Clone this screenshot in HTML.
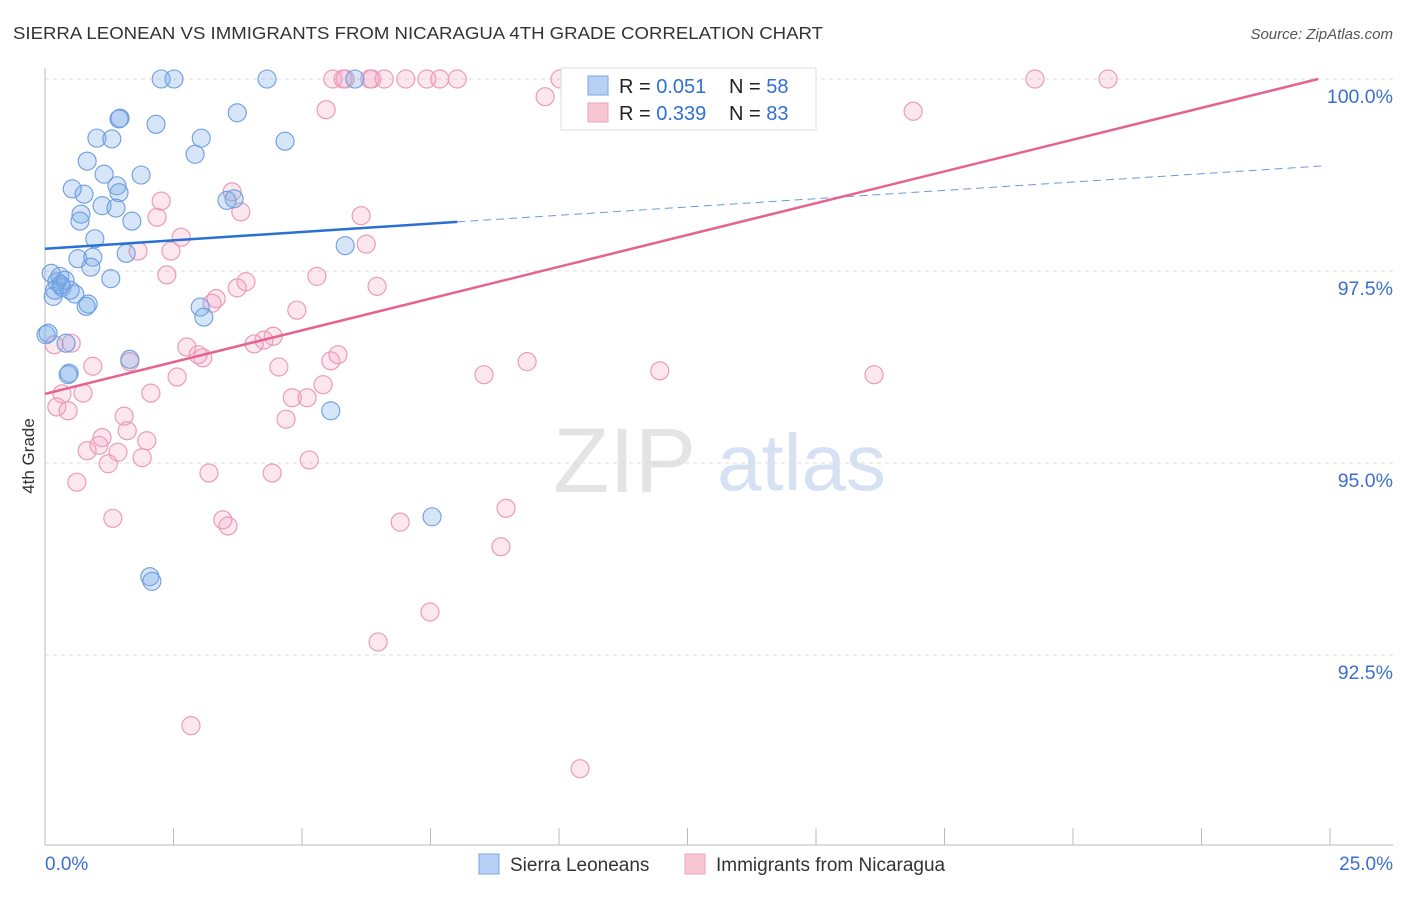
<!DOCTYPE html>
<html><head><meta charset="utf-8"><style>
body{margin:0;background:#fff;font-family:"Liberation Sans",sans-serif}
svg text{font-family:"Liberation Sans",sans-serif}
</style></head><body>
<svg id="c" width="1406" height="892">
<text x="13" y="39" font-size="17.5" fill="#333" textLength="810" lengthAdjust="spacingAndGlyphs">SIERRA LEONEAN VS IMMIGRANTS FROM NICARAGUA 4TH GRADE CORRELATION CHART</text>
<text x="1393" y="39" font-size="15" fill="#555" font-style="italic" text-anchor="end">Source: ZipAtlas.com</text>
<g>
<text x="553" y="492" font-size="92" font-family="Liberation Serif" fill="#e4e4e4">ZIP</text>
<text x="717" y="490" font-size="80" fill="#d6e2f3">atlas</text>
</g>
<g id="grid"></g><g id="axes"></g><g id="pts"></g><g id="lines"></g>
<text transform="translate(34,456) rotate(-90)" font-size="17" fill="#333" text-anchor="middle">4th Grade</text>
<g>
<rect x="561" y="68" width="255" height="62" fill="#fff" stroke="#ddd"/>
<rect x="588" y="76" width="20" height="19" fill="#b8d0f3" stroke="#7aa6e6"/>
<rect x="588" y="103" width="20" height="19" fill="#f9c6d6" stroke="#eea0ba"/>
<text x="619" y="93" font-size="20" fill="#222">R = <tspan fill="#2f6fd6">0.051</tspan></text>
<text x="729" y="93" font-size="20" fill="#222">N = <tspan fill="#2f6fd6">58</tspan></text>
<text x="619" y="120" font-size="20" fill="#222">R = <tspan fill="#2f6fd6">0.339</tspan></text>
<text x="729" y="120" font-size="20" fill="#222">N = <tspan fill="#2f6fd6">83</tspan></text>
</g>
<g>
<rect x="479" y="854" width="20" height="20" fill="#b8d0f3" stroke="#7aa6e6"/>
<text x="510" y="871" font-size="19" fill="#333">Sierra Leoneans</text>
<rect x="685" y="854" width="20" height="20" fill="#f9c6d6" stroke="#eea0ba"/>
<text x="716" y="871" font-size="19" fill="#333">Immigrants from Nicaragua</text>
</g>
</svg>
<script>
const blueX=[2.26,2.51,4.32,6.03,1.46,1.44,2.16,3.74,1.01,1.30,3.04,4.67,2.92,0.82,1.87,1.15,0.53,0.76,1.40,1.44,1.11,1.38,0.70,0.68,1.69,3.68,0.97,5.84,0.64,0.93,0.89,1.58,0.12,0.29,0.23,0.33,0.58,0.84,0.80,1.28,0.16,0.02,0.41,1.65,3.02,3.09,0.47,0.45,2.04,2.08,5.56,7.53,0.31,0.19,0.49,0.39,0.06,3.54];
const blueY=[100,100,100,100,99.49,99.48,99.41,99.56,99.23,99.22,99.23,99.19,99.02,98.93,98.75,98.76,98.57,98.50,98.61,98.52,98.35,98.32,98.24,98.15,98.15,98.44,97.92,97.83,97.66,97.68,97.55,97.73,97.47,97.43,97.36,97.29,97.20,97.07,97.04,97.40,97.17,96.67,96.56,96.35,97.03,96.90,96.17,96.15,93.52,93.46,95.68,94.30,97.32,97.25,97.25,97.38,96.69,98.42];
const pinkX=[5.60,5.84,6.36,6.60,7.02,7.43,7.68,8.02,10.02,19.26,20.68,5.80,6.32,5.47,9.73,16.89,3.64,2.26,2.18,3.81,6.15,2.65,2.45,1.81,6.25,2.37,5.29,3.91,3.74,6.46,3.25,3.33,4.90,4.07,4.26,4.44,4.55,2.76,2.98,3.07,1.65,0.93,0.51,0.18,2.57,2.06,0.33,0.74,5.41,4.81,5.10,5.56,5.70,8.54,9.38,11.96,16.13,4.69,1.54,1.60,1.98,1.11,1.05,0.82,1.42,1.89,1.23,0.23,0.45,0.62,3.19,4.42,5.14,1.32,3.46,3.56,6.91,8.97,8.87,7.49,6.48,2.84,10.41];
const pinkY=[100,100,100,100,100,100,100,100,100,100,100,100,100,99.60,99.77,99.58,98.53,98.41,98.20,98.27,98.22,97.94,97.76,97.76,97.85,97.45,97.43,97.36,97.28,97.30,97.08,97.14,96.99,96.55,96.60,96.65,96.25,96.51,96.41,96.37,96.32,96.26,96.56,96.54,96.12,95.91,95.90,95.91,96.02,95.85,95.85,96.33,96.41,96.15,96.32,96.20,96.15,95.57,95.61,95.42,95.29,95.33,95.23,95.16,95.14,95.07,94.99,95.73,95.68,94.75,94.87,94.87,95.04,94.28,94.26,94.18,94.23,94.41,93.91,93.06,92.67,91.58,91.02];
const blueTrend=[97.79,98.14,8.02,24.9,98.87];
const pinkTrend=[95.9,24.77,100];
const yTicks=[100,97.5,95,92.5];
const yTickLabels=["100.0%","97.5%","95.0%","92.5%"];
const xTicks=[0,2.5,5,7.5,10,12.5,15,17.5,20,22.5,25];
const xTickLabels=["0.0%","25.0%"];
const NS="http://www.w3.org/2000/svg";
const X=v=>45+v*51.4, Y=v=>79+(100-v)*76.8;
function mk(p,t,a){const e=document.createElementNS(NS,t);for(const k in a)e.setAttribute(k,a[k]);document.getElementById(p).appendChild(e);return e;}
yTicks.forEach((t,i)=>{
 const g=mk('grid','line',{x1:45,x2:1393,y1:Y(t),y2:Y(t),stroke:'#ddd','stroke-dasharray':'4,4'});
 
 
 const l=mk('grid','text',{x:1393,y:Y(t)+24,'text-anchor':'end','font-size':19.5,fill:'#3a6fd0'});
 l.textContent=yTickLabels[i];
 
 
});
const ax=mk('axes','line',{x1:45,x2:45,y1:68,y2:845,stroke:'#bbb'});


const bx=mk('axes','line',{x1:45,x2:1393,y1:845,y2:845,stroke:'#bbb'});


xTicks.forEach(t=>{const k=mk('axes','line',{x1:X(t),x2:X(t),y1:828,y2:845,stroke:'#bbb'});
 
 });
const xl0=mk('axes','text',{x:45,y:870,'font-size':19,fill:'#3a6fd0'});xl0.textContent=xTickLabels[0];


const xl1=mk('axes','text',{x:1393,y:870,'font-size':19,fill:'#3a6fd0','text-anchor':'end'});xl1.textContent=xTickLabels[1];


pinkX.forEach((v,i)=>{const c=mk('pts','circle',{cx:X(v),cy:Y(pinkY[i]),r:9,fill:'rgba(244,160,190,0.25)',stroke:'#eb9bb7','stroke-width':1.2});
 
 });
blueX.forEach((v,i)=>{const c=mk('pts','circle',{cx:X(v),cy:Y(blueY[i]),r:9,fill:'rgba(120,168,232,0.3)',stroke:'#6d9de0','stroke-width':1.1});
 
 });
const b1=mk('lines','line',{x1:X(0),y1:Y(blueTrend[0]),x2:X(blueTrend[2]),y2:Y(blueTrend[1]),stroke:'#2a6fd2','stroke-width':2.5});


const b2=mk('lines','line',{x1:X(blueTrend[2]),y1:Y(blueTrend[1]),x2:X(blueTrend[3]),y2:Y(blueTrend[4]),stroke:'#6a9ae0','stroke-width':1,'stroke-dasharray':'8,5'});


const p1=mk('lines','line',{x1:X(0),y1:Y(pinkTrend[0]),x2:X(pinkTrend[1]),y2:Y(pinkTrend[2]),stroke:'#e5638f','stroke-width':2.5});


</script>
</body></html>
